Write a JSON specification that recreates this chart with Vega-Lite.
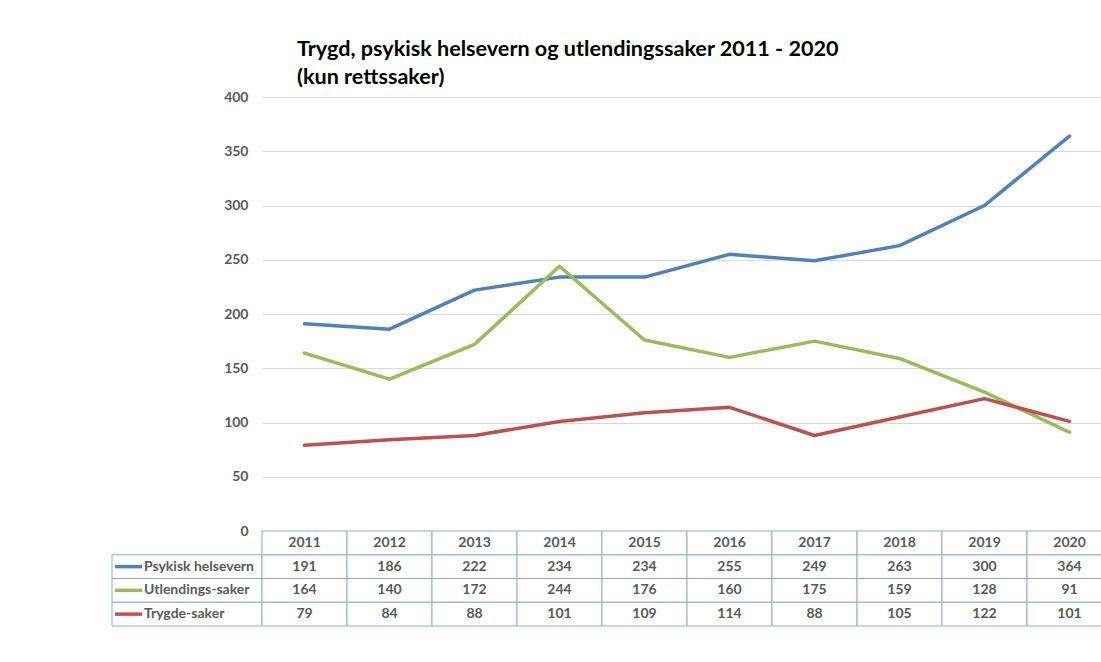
{
  "$schema": "https://vega.github.io/schema/vega-lite/v6.json",
  "padding": {"left": 111, "top": 39, "right": 0, "bottom": 0},
  "background": "white",
  "columns": 2,
  "spacing": 0,
  "bounds": "flush",
  "config": {
    "font": "Lato",
    "view": {"stroke": null},
    "text": {"font": "Lato"}
  },
  "datasets": {
    "d": [
      {"year": "2011", "series": "Psykisk helsevern", "value": 191},
      {"year": "2012", "series": "Psykisk helsevern", "value": 186},
      {"year": "2013", "series": "Psykisk helsevern", "value": 222},
      {"year": "2014", "series": "Psykisk helsevern", "value": 234},
      {"year": "2015", "series": "Psykisk helsevern", "value": 234},
      {"year": "2016", "series": "Psykisk helsevern", "value": 255},
      {"year": "2017", "series": "Psykisk helsevern", "value": 249},
      {"year": "2018", "series": "Psykisk helsevern", "value": 263},
      {"year": "2019", "series": "Psykisk helsevern", "value": 300},
      {"year": "2020", "series": "Psykisk helsevern", "value": 364},
      {"year": "2011", "series": "Utlendings-saker", "value": 164},
      {"year": "2012", "series": "Utlendings-saker", "value": 140},
      {"year": "2013", "series": "Utlendings-saker", "value": 172},
      {"year": "2014", "series": "Utlendings-saker", "value": 244},
      {"year": "2015", "series": "Utlendings-saker", "value": 176},
      {"year": "2016", "series": "Utlendings-saker", "value": 160},
      {"year": "2017", "series": "Utlendings-saker", "value": 175},
      {"year": "2018", "series": "Utlendings-saker", "value": 159},
      {"year": "2019", "series": "Utlendings-saker", "value": 128},
      {"year": "2020", "series": "Utlendings-saker", "value": 91},
      {"year": "2011", "series": "Trygde-saker", "value": 79},
      {"year": "2012", "series": "Trygde-saker", "value": 84},
      {"year": "2013", "series": "Trygde-saker", "value": 88},
      {"year": "2014", "series": "Trygde-saker", "value": 101},
      {"year": "2015", "series": "Trygde-saker", "value": 109},
      {"year": "2016", "series": "Trygde-saker", "value": 114},
      {"year": "2017", "series": "Trygde-saker", "value": 88},
      {"year": "2018", "series": "Trygde-saker", "value": 105},
      {"year": "2019", "series": "Trygde-saker", "value": 122},
      {"year": "2020", "series": "Trygde-saker", "value": 101}
    ]
  },
  "concat": [
    {
      "width": 150,
      "height": 434,
      "data": {"values": []},
      "mark": "point"
    },
    {
      "width": 850,
      "height": 434,
      "data": {"name": "d"},
      "title": {
        "text": ["Trygd, psykisk helsevern og utlendingssaker 2011 - 2020", "(kun rettssaker)"],
        "anchor": "start",
        "frame": "group",
        "dx": 35,
        "offset": 1,
        "font": "Lato",
        "fontSize": 21.6,
        "fontWeight": "bold",
        "color": "#000000",
        "lineHeight": 28
      },
      "mark": {"type": "line", "strokeWidth": 3.5, "strokeCap": "round", "strokeJoin": "round"},
      "encoding": {
        "x": {
          "field": "year",
          "type": "ordinal",
          "scale": {"type": "band", "paddingInner": 0, "paddingOuter": 0},
          "axis": null
        },
        "y": {
          "field": "value",
          "type": "quantitative",
          "scale": {"domain": [0, 400]},
          "axis": {
            "values": [0, 50, 100, 150, 200, 250, 300, 350, 400],
            "grid": true,
            "gridColor": "#d9d9d9",
            "domain": false,
            "ticks": false,
            "labelPadding": 14,
            "labelFontSize": 14,
            "labelFont": "Lato",
            "labelFontWeight": "bold",
            "labelColor": "#595959",
            "title": null
          }
        },
        "color": {
          "field": "series",
          "type": "nominal",
          "scale": {
            "domain": ["Psykisk helsevern", "Utlendings-saker", "Trygde-saker"],
            "range": ["#4F81BD", "#9BBB59", "#C0504D"]
          },
          "legend": null
        }
      }
    },
    {
      "width": 150,
      "height": 95,
      "data": {"name": "d"},
      "transform": [{"filter": "datum.year == '2011'"}],
      "encoding": {
        "y": {
          "field": "series",
          "type": "nominal",
          "scale": {
            "type": "band",
            "domain": ["hdr", "Psykisk helsevern", "Utlendings-saker", "Trygde-saker"],
            "paddingInner": 0,
            "paddingOuter": 0
          },
          "axis": null
        }
      },
      "layer": [
        {"mark": {"type": "rect", "fill": "white", "stroke": "#8EAADB", "strokeWidth": 1}},
        {
          "mark": {"type": "rule", "strokeWidth": 3.5},
          "encoding": {
            "x": {"datum": 0.02, "type": "quantitative", "scale": {"domain": [0, 1]}, "axis": null},
            "x2": {"datum": 0.2},
            "color": {
              "field": "series",
              "type": "nominal",
              "scale": {
                "domain": ["Psykisk helsevern", "Utlendings-saker", "Trygde-saker"],
                "range": ["#4F81BD", "#9BBB59", "#C0504D"]
              },
              "legend": null
            }
          }
        },
        {
          "mark": {"type": "text", "align": "left", "baseline": "middle", "fontSize": 14, "fontWeight": "bold", "color": "#595959"},
          "encoding": {
            "x": {"datum": 0.213, "type": "quantitative"},
            "text": {"field": "series"}
          }
        }
      ]
    },
    {
      "width": 850,
      "height": 95,
      "data": {"name": "d"},
      "encoding": {
        "x": {
          "field": "year",
          "type": "ordinal",
          "scale": {"type": "band", "paddingInner": 0, "paddingOuter": 0},
          "axis": null
        }
      },
      "layer": [
        {
          "mark": {"type": "rect", "fill": "white", "stroke": "#8EAADB", "strokeWidth": 1},
          "encoding": {
            "y": {
              "field": "series",
              "type": "nominal",
              "scale": {
                "type": "band",
                "domain": ["hdr", "Psykisk helsevern", "Utlendings-saker", "Trygde-saker"],
                "paddingInner": 0,
                "paddingOuter": 0
              },
              "axis": null
            }
          }
        },
        {
          "transform": [{"filter": "datum.series == 'Psykisk helsevern'"}],
          "mark": {"type": "rect", "fill": "white", "stroke": "#8EAADB", "strokeWidth": 1},
          "encoding": {"y": {"datum": "hdr", "type": "nominal"}}
        },
        {
          "mark": {"type": "text", "baseline": "middle", "fontSize": 14, "fontWeight": "bold", "color": "#595959"},
          "encoding": {
            "y": {"field": "series", "type": "nominal"},
            "text": {"field": "value", "type": "quantitative"}
          }
        },
        {
          "transform": [{"filter": "datum.series == 'Psykisk helsevern'"}],
          "mark": {"type": "text", "baseline": "middle", "fontSize": 14, "fontWeight": "bold", "color": "#595959"},
          "encoding": {
            "y": {"datum": "hdr", "type": "nominal"},
            "text": {"field": "year"}
          }
        }
      ]
    }
  ]
}
